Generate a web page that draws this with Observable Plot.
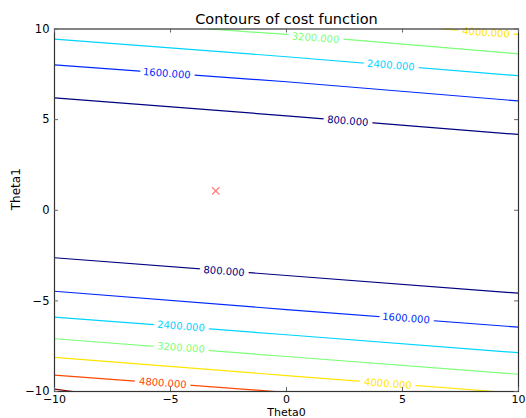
<!DOCTYPE html>
<html><head><meta charset="utf-8">
<script src="https://cdn.jsdelivr.net/npm/d3@7"></script>
<script src="https://cdn.jsdelivr.net/npm/@observablehq/plot@0.6"></script>
<style>
body{margin:0;background:#fff}
svg{display:block;font-family:"DejaVu Sans",sans-serif}
</style>
</head><body><div id="chart"></div>
<script>
// Contour levels of the cost function and their (jet) colours
const levels = [800, 1600, 2400, 3200, 4000, 4800, 5600];
const levelColors = ["#000080", "#0028ff", "#00d4ff", "#7cff79", "#ffe500", "#ff4800", "#800000"];

// Contour paths: [theta0, theta1] points
const contour800Upper  = [[-10, 6.20], [0, 5.21], [10, 4.18]];
const contour1600Upper = [[-10, 8.02], [0, 7.09], [10, 6.03]];
const contour2400Upper = [[-10, 9.44], [0, 8.47], [10, 7.42]];
const contour3200Upper = [[-3.34, 10], [0, 9.70], [10, 8.63]];
const contour4000Upper = [[6.7, 10], [10, 9.70]];
const contour800Lower  = [[-10, -2.62], [0, -3.60], [10, -4.58]];
const contour1600Lower = [[-10, -4.47], [0, -5.48], [10, -6.45]];
const contour2400Lower = [[-10, -5.90], [0, -6.87], [10, -7.86]];
const contour3200Lower = [[-10, -7.09], [0, -8.07], [10, -9.05]];
const contour4000Lower = [[-10, -8.12], [0, -9.12], [8.99, -10]];
const contour4800Lower = [[-10, -9.10], [-0.48, -10]];
const contour5600Lower = [[-10, -9.87], [-9.2, -10]];

const segments = [
  [800, contour800Upper], [1600, contour1600Upper], [2400, contour2400Upper],
  [3200, contour3200Upper], [4000, contour4000Upper],
  [800, contour800Lower], [1600, contour1600Lower], [2400, contour2400Lower],
  [3200, contour3200Lower], [4000, contour4000Lower], [4800, contour4800Lower],
  [5600, contour5600Lower]
];

// Inline contour labels
const labelLevels = [3200, 2400, 1600, 800, 4000, 800, 1600, 2400, 3200, 4800, 4000];
const labelTheta0 = [1.25, 4.50, -5.16, 2.64, 8.60, -2.69, 5.15, -4.55, -4.55, -5.33, 4.37];
const labelTheta1 = [9.49, 7.99, 7.54, 4.91, 9.79, -3.38, -5.97, -6.41, -7.59, -9.54, -9.58];

// Marked point (minimum found)
const markTheta0 = [-3.05];
const markTheta1 = [1.07];

const xTicks = [-10, -5, 0, 5, 10];
const yTicks = [-10, -5, 0, 5, 10];
const title = "Contours of cost function";
const xLabel = "Theta0";
const yLabel = "Theta1";

const lineRows = segments.flatMap(([level, pts], i) =>
  pts.map(([t0, t1]) => ({segment: i, level, theta0: t0, theta1: t1})));
const labelRows = labelLevels.map((level, i) => ({level, theta0: labelTheta0[i], theta1: labelTheta1[i]}));
const markRows = markTheta0.map((t0, i) => ({theta0: t0, theta1: markTheta1[i]}));

const W = 526, H = 418, mL = 54, mR = 8, mT = 28.5, mB = 27;
const frameW = W - mL - mR, frameH = H - mT - mB;

const chart = Plot.plot({
  width: W, height: H,
  marginLeft: mL, marginRight: mR, marginTop: mT, marginBottom: mB,
  x: {domain: [-10, 10], axis: null},
  y: {domain: [-10, 10], axis: null},
  color: {type: "ordinal", domain: levels, range: levelColors},
  style: {fontFamily: "DejaVu Sans, sans-serif", background: "white", color: "black"},
  marks: [
    Plot.line(lineRows, {x: "theta0", y: "theta1", z: "segment", stroke: "level", strokeWidth: 1.2, clip: true}),
    Plot.text(labelRows, {x: "theta0", y: "theta1", text: d => d.level.toFixed(3), fill: "level",
      stroke: "white", strokeWidth: 9, rotate: 4.4, fontSize: 10}),
    Plot.dot(markRows, {x: "theta0", y: "theta1", symbol: "times", r: 3.4, stroke: "#ff5050", strokeOpacity: 0.75, strokeWidth: 1.2}),
    Plot.frame({stroke: "#333", strokeWidth: 1.2}),
    Plot.tickX(xTicks, {x: d => d, insetTop: frameH - 4, stroke: "#666"}),
    Plot.tickX(xTicks, {x: d => d, insetBottom: frameH - 4, stroke: "#666"}),
    Plot.tickY(yTicks, {y: d => d, insetRight: frameW - 4, stroke: "#666"}),
    Plot.tickY(yTicks, {y: d => d, insetLeft: frameW - 4, stroke: "#666"}),
    Plot.axisX({ticks: xTicks, tickSize: 0, tickPadding: 3.5, fontSize: 11, label: null}),
    Plot.axisY({ticks: yTicks, tickSize: 0, tickPadding: 5, fontSize: 11.5, label: null}),
    Plot.text([title], {text: d => d, frameAnchor: "top", dy: -5.5, lineAnchor: "bottom", fontSize: 14.5, fill: "black"}),
    Plot.text([xLabel], {text: d => d, frameAnchor: "bottom", dy: 24.3, lineAnchor: "bottom", fontSize: 11, fill: "black"}),
    Plot.text([yLabel], {text: d => d, frameAnchor: "left", dx: -38.5, rotate: -90, fontSize: 12, fill: "black"})
  ]
});
document.getElementById("chart").appendChild(chart);
</script>
</body></html>
